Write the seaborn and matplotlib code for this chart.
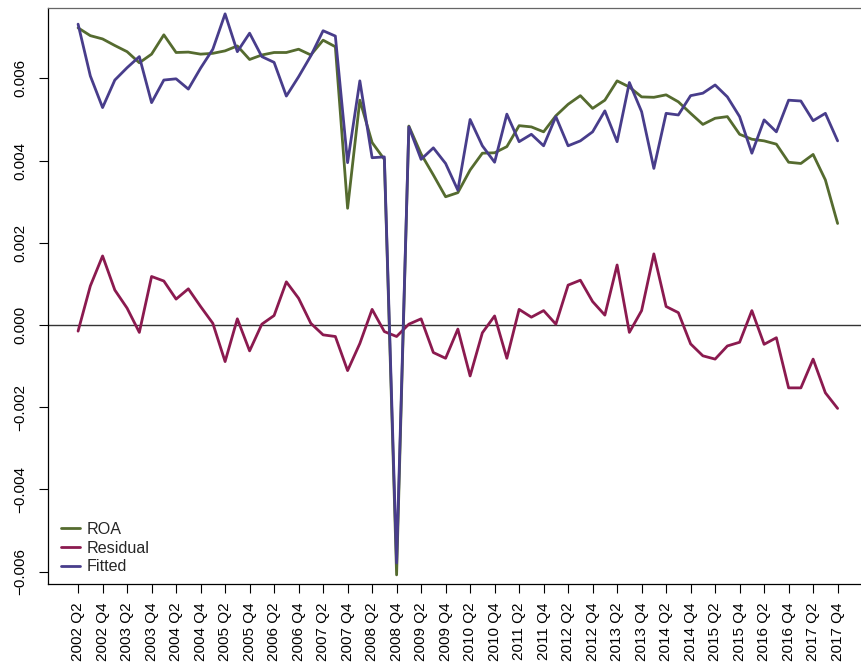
import numpy as np
import pandas as pd
import matplotlib
matplotlib.use("Agg")
import matplotlib.pyplot as plt
import seaborn as sns

# Quarterly periods, 2002 Q2 .. 2017 Q4
years = [2002 + (q + 1) // 4 for q in range(63)]
quarters = [f"Q{(q + 1) % 4 + 1}" for q in range(63)]
periods = [f"{y} {q}" for y, q in zip(years, quarters)]

roa = [7.23, 7.04, 6.96, 6.80, 6.65, 6.38, 6.59, 7.06, 6.63, 6.64,
       6.59, 6.61, 6.67, 6.79, 6.46, 6.57, 6.63, 6.63, 6.71, 6.57,
       6.93, 6.77, 2.84, 5.47, 4.44, 4.03, -6.08, 4.84, 4.16, 3.65,
       3.12, 3.22, 3.77, 4.18, 4.19, 4.34, 4.85, 4.82, 4.70, 5.09,
       5.37, 5.58, 5.27, 5.47, 5.94, 5.79, 5.55, 5.54, 5.60, 5.43,
       5.15, 4.88, 5.03, 5.07, 4.64, 4.52, 4.48, 4.40, 3.96, 3.93,
       4.15, 3.53, 2.47]

fitted = [7.32, 6.06, 5.29, 5.96, 6.26, 6.53, 5.41, 5.96, 5.99, 5.74,
          6.25, 6.71, 7.57, 6.65, 7.10, 6.53, 6.39, 5.57, 6.04, 6.55,
          7.16, 7.03, 3.95, 5.94, 4.07, 4.09, -5.79, 4.82, 4.03, 4.31,
          3.93, 3.28, 5.00, 4.36, 3.96, 5.13, 4.46, 4.64, 4.36, 5.07,
          4.36, 4.48, 4.70, 5.21, 4.46, 5.90, 5.19, 3.81, 5.15, 5.11,
          5.58, 5.64, 5.84, 5.55, 5.07, 4.18, 4.99, 4.70, 5.47, 5.45,
          4.97, 5.15, 4.48]

residual = [-0.15, 0.95, 1.68, 0.85, 0.41, -0.18, 1.18, 1.07, 0.63, 0.88,
            0.45, 0.04, -0.89, 0.15, -0.63, 0.02, 0.23, 1.05, 0.65, 0.04,
            -0.24, -0.28, -1.11, -0.45, 0.38, -0.16, -0.28, 0.02, 0.15, -0.67,
            -0.81, -0.10, -1.24, -0.19, 0.22, -0.81, 0.38, 0.19, 0.35, 0.02,
            0.97, 1.09, 0.57, 0.24, 1.46, -0.18, 0.35, 1.73, 0.45, 0.30,
            -0.46, -0.75, -0.83, -0.51, -0.42, 0.35, -0.47, -0.31, -1.53, -1.53,
            -0.83, -1.65, -2.03]

series_names = ["ROA", "Residual", "Fitted"]
series_colors = ["#556B2F", "#8B1A4F", "#483D8B"]

idx = np.arange(len(periods))
df = pd.concat([
    pd.DataFrame({"t": idx, "value": np.array(vals) * 1e-3, "series": name})
    for name, vals in zip(series_names, [roa, residual, fitted])
], ignore_index=True)

sns.set_style("ticks")
plt.rcParams["font.family"] = ["Liberation Sans", "DejaVu Sans"]

fig = plt.figure(figsize=(8.62, 6.68), dpi=100)
ax = fig.add_axes([47.7 / 862, 84 / 668, 820.3 / 862, 576.5 / 668])

sns.lineplot(data=df, x="t", y="value", hue="series",
             hue_order=series_names, palette=series_colors,
             estimator=None, sort=False, linewidth=2.0, ax=ax)

ax.axhline(0, color="#333333", linewidth=1.0, zorder=0)

ax.set_xlim(-2.48, 64.48)
ax.set_ylim(-0.006302, 0.007725)

ax.set_xticks(idx[::2])
ax.set_xticklabels(periods[::2], rotation=90, fontsize=11)
yt = [-0.006, -0.004, -0.002, 0.0, 0.002, 0.004, 0.006]
ax.set_yticks(yt)
ax.set_yticklabels([f"{v:.3f}".replace("-", "\u2212") for v in yt],
                   rotation=90, va="center", fontsize=11)
ax.tick_params(axis="x", length=6.5, width=0.8, pad=7, colors="black")
ax.tick_params(axis="y", length=6.8, width=0.8, pad=8, colors="black")
ax.set_xlabel("")
ax.set_ylabel("")

for side in ["left", "bottom", "top"]:
    ax.spines[side].set_visible(True)
    ax.spines[side].set_color("black")
    ax.spines[side].set_linewidth(0.9)
ax.spines["top"].set_color("#666666")
ax.spines["right"].set_visible(False)

handles, labels = ax.get_legend_handles_labels()
ax.legend(handles, labels, loc="lower left", bbox_to_anchor=(0.016, 0.017),
          frameon=False, fontsize=11.6, handlelength=1.2, handletextpad=0.4,
          labelspacing=0.22, borderpad=0, borderaxespad=0)

fig.savefig("out.png", dpi=100)
